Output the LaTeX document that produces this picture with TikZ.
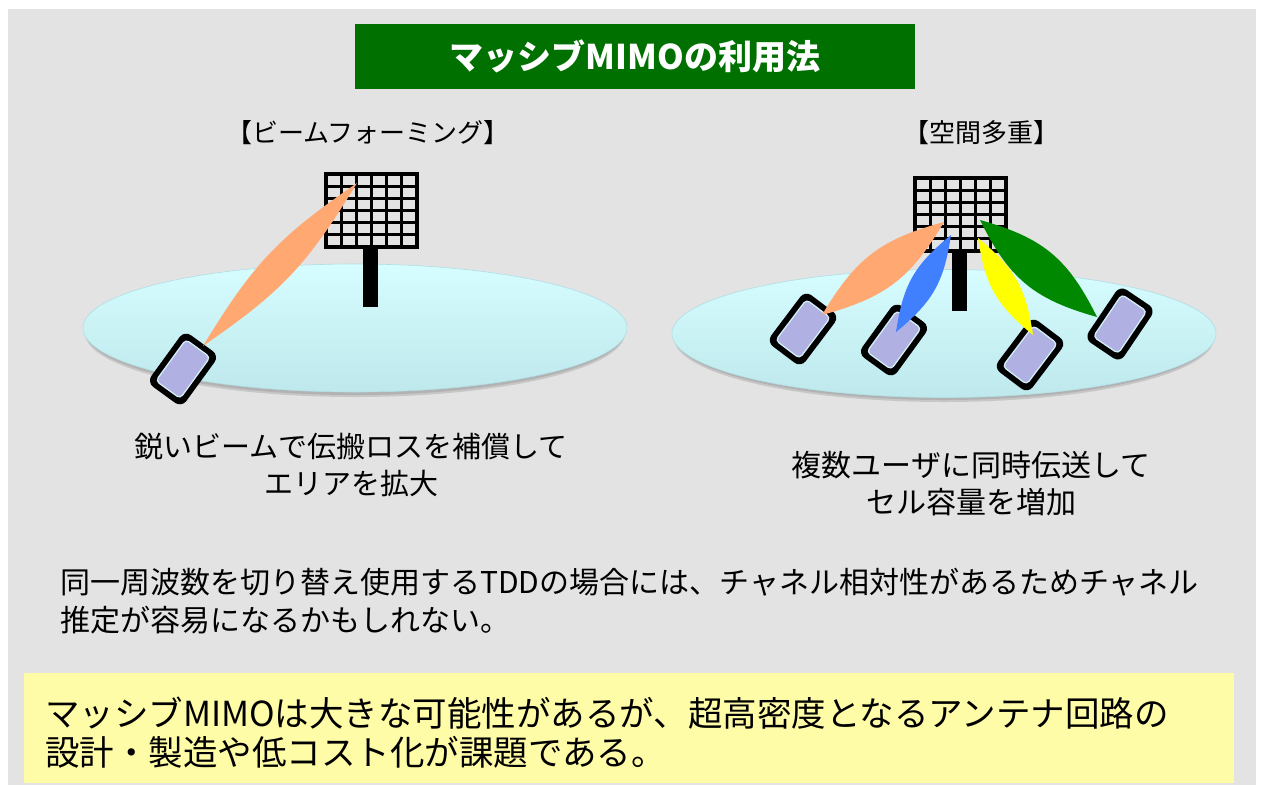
\documentclass[tikz,border=0pt]{standalone}
\usepackage{fontspec}
\setmainfont{Noto Sans CJK JP}
\usetikzlibrary{shapes.geometric, positioning}
\definecolor{slidegray}{RGB}{227,227,227}
\definecolor{titlegreen}{RGB}{0,112,0}
\definecolor{notebox}{RGB}{255,252,168}
\definecolor{celltop}{RGB}{214,253,255}
\definecolor{cellbot}{RGB}{190,232,236}
\definecolor{celledge}{RGB}{176,222,228}
\definecolor{screenfill}{RGB}{176,176,226}
\definecolor{screenedge}{RGB}{212,238,246}
\definecolor{beamorange}{RGB}{255,168,114}
\definecolor{beamblue}{RGB}{64,128,255}
\definecolor{beamyellow}{RGB}{255,255,0}
\definecolor{beamgreen}{RGB}{0,136,0}

\tikzset{
  antenna/.pic={
    % mast
    \fill[black] (37,72) rectangle (52,133);
    % 6x6 element array
    \foreach \i in {0,...,6} {
      \draw[line width=3.2pt, line cap=rect] (\i*15.17,0) -- (\i*15.17,73);
      \draw[line width=3.2pt, line cap=rect] (0,\i*12.17) -- (91,\i*12.17);
    }
  },
  phone/.pic={
    \fill[black, rounded corners=8pt] (-21.5,-32) rectangle (21.5,32);
    \filldraw[fill=screenfill, draw=screenedge, line width=1.3pt, rounded corners=4pt]
      (-15,-25.5) rectangle (15,25.5);
  }
}

\begin{document}
\begin{tikzpicture}[x=1pt, y=-1pt,
  cell/.style={ellipse, draw=celledge, line width=0.6pt, top color=celltop,
               bottom color=cellbot, minimum width=544pt, minimum height=128pt, inner sep=0pt},
  shade/.style={ellipse, fill=black, opacity=0.12, minimum width=540pt,
                minimum height=128pt, inner sep=0pt},
  beam/.style={fill=#1},
  head/.style={font=\fontsize{26}{30}\selectfont, inner sep=0pt},
  caption/.style={font=\fontsize{#1}{37}\selectfont, align=center, inner sep=0pt},
  body/.style={font=\fontsize{#1}{38}\selectfont, align=left, inner sep=0pt, anchor=west}
]
\useasboundingbox (0,0) rectangle (1264,785);
\fill[white] (0,0) rectangle (1264,785);
\fill[slidegray] (8,9) rectangle (1256,785);

% Title bar
\node[fill=titlegreen, minimum width=560pt, minimum height=65pt, inner sep=0pt,
      text=white, font=\fontsize{34}{38}\selectfont\bfseries] (title) at (635,56.5)
      {マッシブMIMOの利用法};

% Headings
\node[head] (hbf) at (368,133) {【ビームフォーミング】};
\node[head] (hsm) at (981,133) {【空間多重】};

% Cells
\node[shade] (shL) at (355,333) {};
\node[shade] (shR) at (944,338) {};
\node[shade, opacity=0.1] at (355,331) {};
\node[shade, opacity=0.1] at (944,336) {};
\node[cell] (cellL) at (355,328) {};
\node[cell] (cellR) at (944,333.5) {};

% Base stations
\pic (antL) at (326,174) {antenna};
\pic (antR) at (915,178) {antenna};

% Terminals
\pic[rotate=-36] (phL)  at (183,369) {phone};
\pic[rotate=-37] (phR1) at (803,329) {phone};
\pic[rotate=-36] (phR2) at (894,340) {phone};
\pic[rotate=-37] (phR3) at (1030,355) {phone};
\pic[rotate=-34] (phR4) at (1120,324) {phone};

% Beams
\coordinate (bfS) at (357,183);  \coordinate (bfE) at (203,346);
\coordinate (oS) at (944,222);   \coordinate (oE) at (822,315);
\coordinate (uS) at (951,235);   \coordinate (uE) at (896,332);
\coordinate (yS) at (978,238);   \coordinate (yE) at (1033,335);
\coordinate (gS) at (980,220);   \coordinate (gE) at (1097,317);
\fill[beam=beamorange] (bfS) to[bend left=12, looseness=1.1] (bfE) to[bend left=12, looseness=1.1] (bfS);
\fill[beam=beamorange] (oS) to[bend left=22, looseness=1.1] (oE) to[bend left=22, looseness=1.1] (oS);
\fill[beam=beamblue]   (uS) to[bend left=21, looseness=1.1] (uE) to[bend left=21, looseness=1.1] (uS);
\fill[beam=beamyellow] (yS) to[bend left=21, looseness=1.1] (yE) to[bend left=21, looseness=1.1] (yS);
\fill[beam=beamgreen]  (gS) to[bend left=24, looseness=1.1] (gE) to[bend left=24, looseness=1.1] (gS);

% Captions
\node[caption=29] (capL) at (351,465) {鋭いビームで伝搬ロスを補償して\\エリアを拡大};
\node[caption=30] (capR) at (971,484) {複数ユーザに同時伝送して\\セル容量を増加};

% Remark
\node[body=30] (remark) at (60,601)
  {同一周波数を切り替え使用するTDDの場合には、チャネル相対性があるためチャネル\\推定が容易になるかもしれない。};

% Summary box
\node[fill=notebox, minimum width=1210pt, minimum height=110pt, inner sep=0pt,
      anchor=north west] (note) at (24,673) {};
\node[body=34, font=\fontsize{34.5}{39}\selectfont] (notetext) at (45,732.5)
  {マッシブMIMOは大きな可能性があるが、超高密度となるアンテナ回路の\\設計・製造や低コスト化が課題である。};
\end{tikzpicture}
\end{document}
